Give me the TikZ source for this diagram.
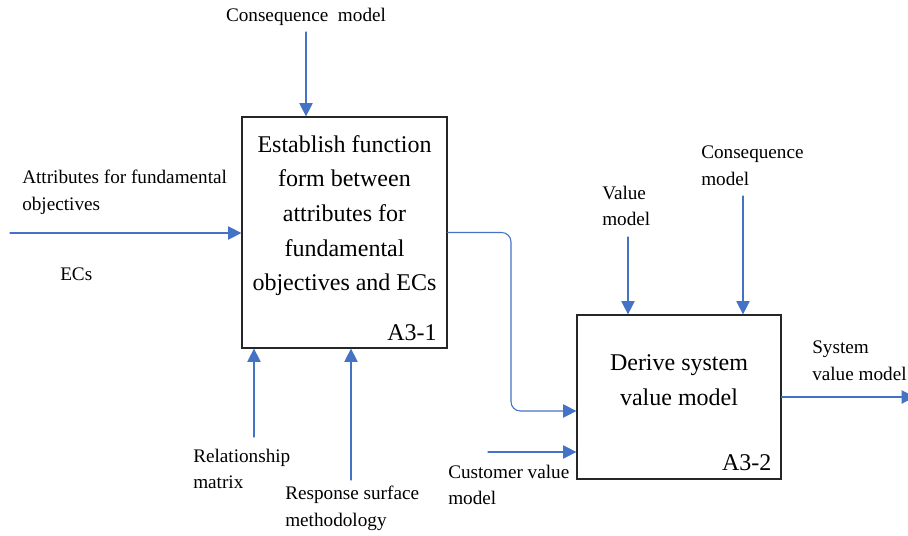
\documentclass[tikz,border=0pt]{standalone}
\usepackage{fontspec}
\setmainfont{Liberation Serif}
\usetikzlibrary{arrows.meta,positioning}
\definecolor{flowblue}{HTML}{4472C4}

\begin{document}
\begin{tikzpicture}[x=0.75pt,y=-0.75pt,>={Triangle[length=10pt,width=10pt]},line cap=round,
  fbox/.style={draw=black!85,line width=0.9pt,inner sep=0pt},
  ftext/.style={align=center,inner sep=0pt,font=\fontsize{18}{26}\selectfont},
  fid/.style={anchor=south east,inner sep=0pt,font=\fontsize{18}{20}\selectfont},
  lbl/.style={anchor=west,align=left,inner sep=0pt,font=\fontsize{14.4}{20}\selectfont},
  flow/.style={draw=flowblue,line width=0.8pt,->,rounded corners=7pt}]
\useasboundingbox (0,0) rectangle (908,536);
% function boxes
\node[fbox,minimum width=153.75pt,minimum height=173.25pt] (f1) at (344.5,232.5) {};
\node[fbox,minimum width=153pt,minimum height=123pt] (f2) at (679,397) {};
\node[ftext] (t1) at ([yshift=12.75pt]f1.center) {Establish function\\form between\\attributes for\\fundamental\\objectives and ECs};
\node[ftext] (t2) at ([yshift=12.75pt]f2.center) {Derive system\\value model};
\node[fid] (id1) at ([xshift=-8pt,yshift=6pt]f1.south east) {A3-1};
\node[fid] (id2) at ([xshift=-7.5pt,yshift=6.5pt]f2.south east) {A3-2};
% labels
\node[lbl,anchor=center] (l1) at (306,17) {Consequence~ model};
\node[lbl] (l2) at (22,192) {Attributes for fundamental\\objectives};
\node[lbl] (l3) at (60,274) {ECs};
\node[lbl] (l4) at (193,469) {Relationship\\matrix};
\node[lbl] (l5) at (285,508) {Response surface\\methodology};
\node[lbl] (l6) at (448,485) {Customer value\\model};
\node[lbl] (l7) at (602,206) {Value\\model};
\node[lbl] (l8) at (701,166) {Consequence\\model};
\node[lbl] (l9) at (812,361) {System\\value model};
% free ends
\coordinate (c1) at (306,32);
\coordinate (c2) at (10,233);
\coordinate (c3) at (254,437);
\coordinate (c4) at (351,480);
\coordinate (c5) at (488,452);
\coordinate (c6) at (628,237);
\coordinate (c7) at (743,196);
\coordinate (c8) at (915,397);
\coordinate (k) at (511,411);
% arrows
\draw[flow] (c1) -- (c1 |- f1.north);
\draw[flow] (c2) -- (c2 -| f1.west);
\draw[flow] (c3) -- (c3 |- f1.south);
\draw[flow] (c4) -- (c4 |- f1.south);
\draw[flow] (f1.east) -| (k) -- (k -| f2.west);
\draw[flow] (c5) -- (c5 -| f2.west);
\draw[flow] (c6) -- (c6 |- f2.north);
\draw[flow] (c7) -- (c7 |- f2.north);
\draw[flow] (f2.east) -- (c8);
\end{tikzpicture}
\end{document}
